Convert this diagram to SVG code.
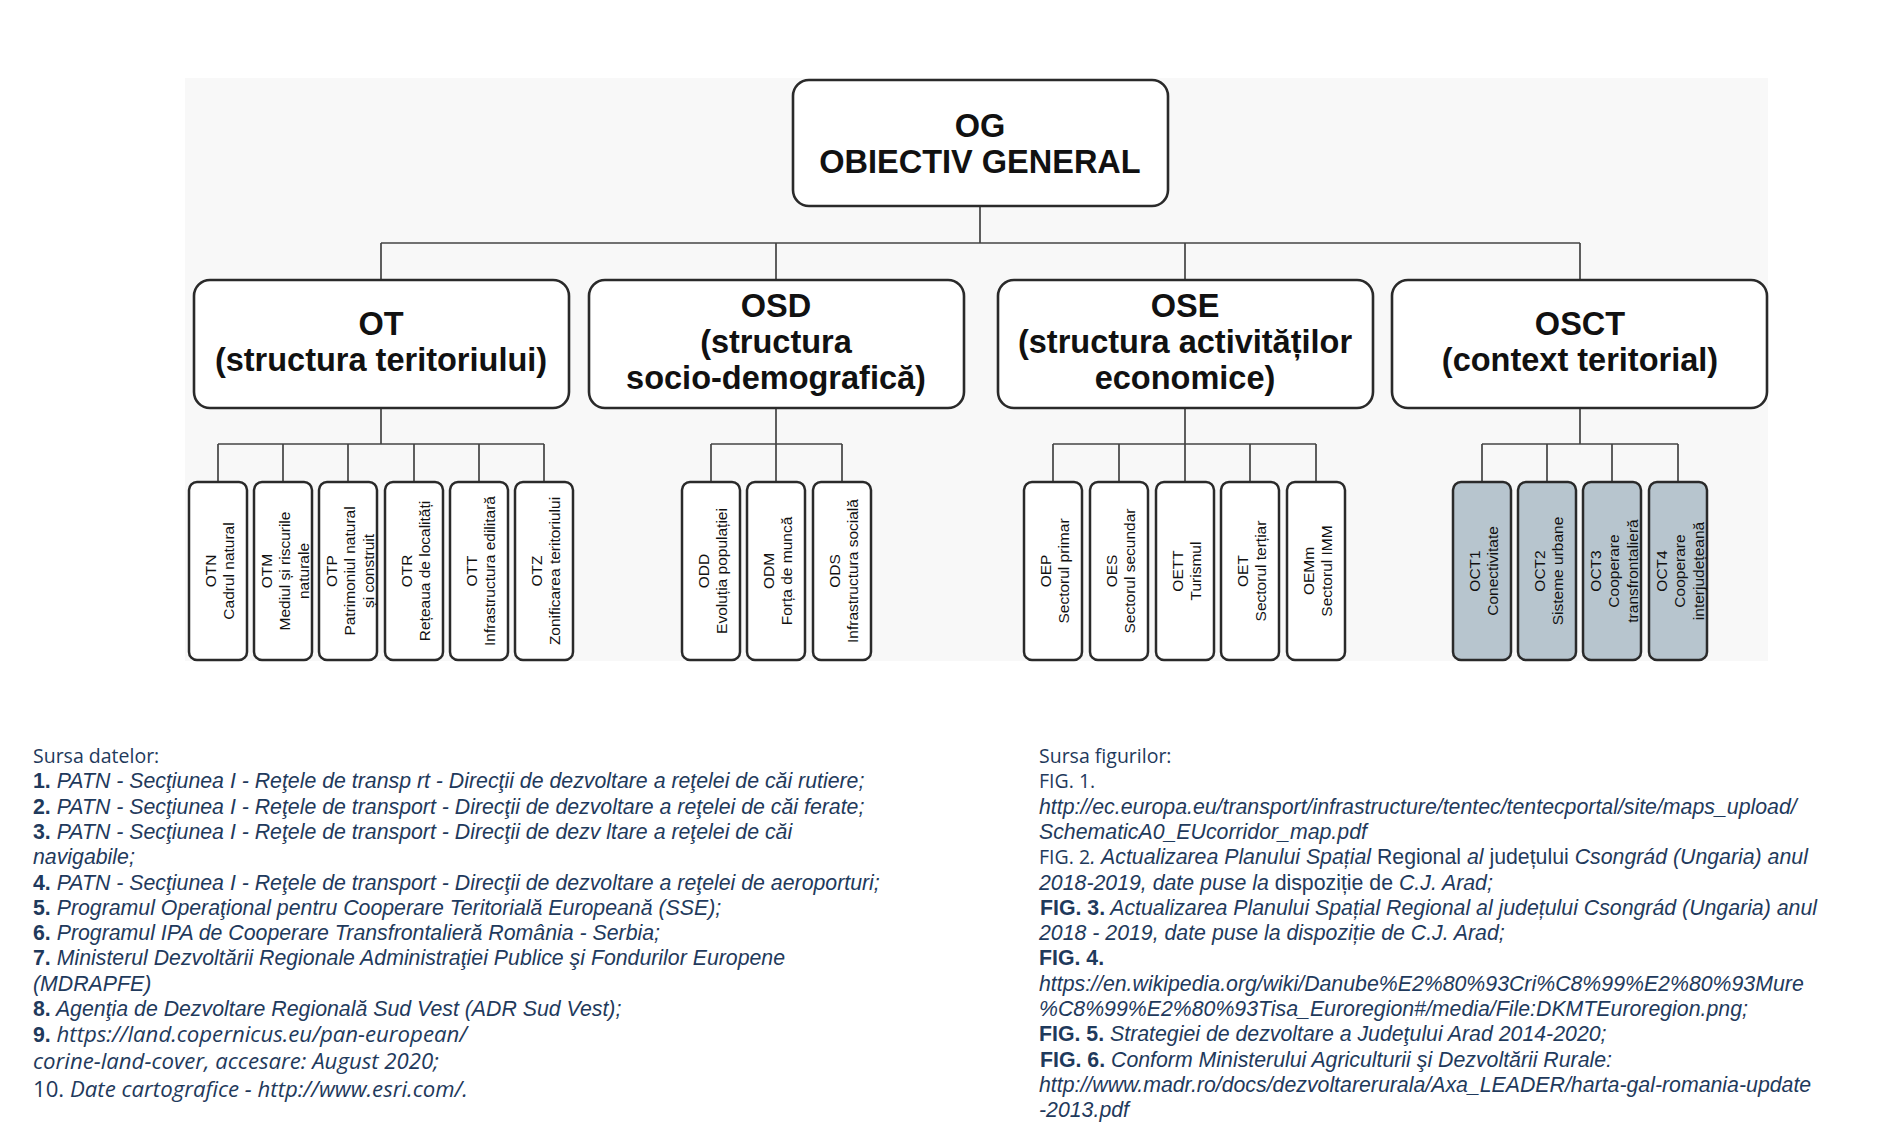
<svg xmlns="http://www.w3.org/2000/svg" width="1892" height="1123" viewBox="0 0 1892 1123">
<style>
.box{fill:#ffffff;stroke:#2a2a2a;stroke-width:2.6}
.leaf{fill:#ffffff;stroke:#2a2a2a;stroke-width:2.5}
.leafg{fill:#b7c5ce;stroke:#2a2a2a;stroke-width:2.5}
.conn line{stroke:#444;stroke-width:1.7;fill:none}
.big{font-family:"Liberation Sans",Arial,sans-serif;font-weight:bold;font-size:32.5px;fill:#111;text-anchor:middle}
.lt{font-family:"Liberation Sans",Arial,sans-serif;font-size:15.5px;fill:#111;text-anchor:middle}
.src{font-size:21.3px;fill:#1f3a5c}
.os{font-family:"Open Sans","Liberation Sans",sans-serif;font-size:19.5px}
.osi{font-family:"Open Sans","Liberation Sans",sans-serif;font-size:22.2px;font-style:italic}
.ar{font-family:"Liberation Sans",Arial,sans-serif;font-style:italic}
.arr{font-family:"Liberation Sans",Arial,sans-serif;font-style:normal}
.b{font-family:"Liberation Sans",Arial,sans-serif;font-weight:bold;font-style:normal}
</style>
<rect x="0" y="0" width="1892" height="1123" fill="#ffffff"/>
<rect x="185" y="78" width="1583" height="583" fill="#f8f8f8"/>

<g id="connectors" class="conn">
<line x1="980" y1="206" x2="980" y2="243"/>
<line x1="381" y1="243" x2="1580" y2="243"/>
<line x1="381" y1="243" x2="381" y2="280"/>
<line x1="776" y1="243" x2="776" y2="280"/>
<line x1="1185" y1="243" x2="1185" y2="280"/>
<line x1="1580" y1="243" x2="1580" y2="280"/>
<line x1="381" y1="408" x2="381" y2="444"/>
<line x1="218" y1="444" x2="544" y2="444"/>
<line x1="218" y1="444" x2="218" y2="482"/>
<line x1="283" y1="444" x2="283" y2="482"/>
<line x1="348" y1="444" x2="348" y2="482"/>
<line x1="414" y1="444" x2="414" y2="482"/>
<line x1="479" y1="444" x2="479" y2="482"/>
<line x1="544" y1="444" x2="544" y2="482"/>
<line x1="776" y1="408" x2="776" y2="482"/>
<line x1="711" y1="444" x2="842" y2="444"/>
<line x1="711" y1="444" x2="711" y2="482"/>
<line x1="842" y1="444" x2="842" y2="482"/>
<line x1="1185" y1="408" x2="1185" y2="482"/>
<line x1="1053" y1="444" x2="1316" y2="444"/>
<line x1="1053" y1="444" x2="1053" y2="482"/>
<line x1="1119" y1="444" x2="1119" y2="482"/>
<line x1="1250" y1="444" x2="1250" y2="482"/>
<line x1="1316" y1="444" x2="1316" y2="482"/>
<line x1="1580" y1="408" x2="1580" y2="444"/>
<line x1="1482" y1="444" x2="1678" y2="444"/>
<line x1="1482" y1="444" x2="1482" y2="482"/>
<line x1="1547" y1="444" x2="1547" y2="482"/>
<line x1="1612" y1="444" x2="1612" y2="482"/>
<line x1="1678" y1="444" x2="1678" y2="482"/>
</g>

<g id="OG"><rect class="box" x="793" y="80" width="375" height="126" rx="16"/>
<text class="big"><tspan x="980" y="137">OG</tspan><tspan x="980" y="173">OBIECTIV GENERAL</tspan></text></g>

<g id="OT"><rect class="box" x="194" y="280" width="375" height="128" rx="16"/>
<text class="big"><tspan x="381" y="335">OT</tspan><tspan x="381" y="371">(structura teritoriului)</tspan></text></g>
<g id="OSD"><rect class="box" x="589" y="280" width="375" height="128" rx="16"/>
<text class="big"><tspan x="776" y="317">OSD</tspan><tspan x="776" y="353">(structura</tspan><tspan x="776" y="389">socio-demografică)</tspan></text></g>
<g id="OSE"><rect class="box" x="998" y="280" width="375" height="128" rx="16"/>
<text class="big"><tspan x="1185" y="317">OSE</tspan><tspan x="1185" y="353">(structura activităților</tspan><tspan x="1185" y="389">economice)</tspan></text></g>
<g id="OSCT"><rect class="box" x="1392" y="280" width="375" height="128" rx="16"/>
<text class="big"><tspan x="1580" y="335">OSCT</tspan><tspan x="1580" y="371">(context teritorial)</tspan></text></g>

<g id="OTN"><rect class="leaf" x="189" y="482" width="58" height="178" rx="8"/>
<text class="lt" transform="translate(218,571) rotate(-90)"><tspan x="0" y="-2.25">OTN</tspan><tspan x="0" dy="18.5">Cadrul natural</tspan></text></g>
<g id="OTM"><rect class="leaf" x="254" y="482" width="58" height="178" rx="8"/>
<text class="lt" transform="translate(283,571) rotate(-90)"><tspan x="0" y="-11.5">OTM</tspan><tspan x="0" dy="18.5">Mediul și riscurile</tspan><tspan x="0" dy="18.5">naturale</tspan></text></g>
<g id="OTP"><rect class="leaf" x="319" y="482" width="58" height="178" rx="8"/>
<text class="lt" transform="translate(348,571) rotate(-90)"><tspan x="0" y="-11.5">OTP</tspan><tspan x="0" dy="18.5">Patrimoniul natural</tspan><tspan x="0" dy="18.5">și construit</tspan></text></g>
<g id="OTR"><rect class="leaf" x="385" y="482" width="58" height="178" rx="8"/>
<text class="lt" transform="translate(414,571) rotate(-90)"><tspan x="0" y="-2.25">OTR</tspan><tspan x="0" dy="18.5">Rețeaua de localități</tspan></text></g>
<g id="OTT"><rect class="leaf" x="450" y="482" width="58" height="178" rx="8"/>
<text class="lt" transform="translate(479,571) rotate(-90)"><tspan x="0" y="-2.25">OTT</tspan><tspan x="0" dy="18.5">Infrastructura edilitară</tspan></text></g>
<g id="OTZ"><rect class="leaf" x="515" y="482" width="58" height="178" rx="8"/>
<text class="lt" transform="translate(544,571) rotate(-90)"><tspan x="0" y="-2.25">OTZ</tspan><tspan x="0" dy="18.5">Zonificarea teritoriului</tspan></text></g>

<g id="ODD"><rect class="leaf" x="682" y="482" width="58" height="178" rx="8"/>
<text class="lt" transform="translate(711,571) rotate(-90)"><tspan x="0" y="-2.25">ODD</tspan><tspan x="0" dy="18.5">Evoluția populației</tspan></text></g>
<g id="ODM"><rect class="leaf" x="747" y="482" width="58" height="178" rx="8"/>
<text class="lt" transform="translate(776,571) rotate(-90)"><tspan x="0" y="-2.25">ODM</tspan><tspan x="0" dy="18.5">Forța de muncă</tspan></text></g>
<g id="ODS"><rect class="leaf" x="813" y="482" width="58" height="178" rx="8"/>
<text class="lt" transform="translate(842,571) rotate(-90)"><tspan x="0" y="-2.25">ODS</tspan><tspan x="0" dy="18.5">Infrastructura socială</tspan></text></g>

<g id="OEP"><rect class="leaf" x="1024" y="482" width="58" height="178" rx="8"/>
<text class="lt" transform="translate(1053,571) rotate(-90)"><tspan x="0" y="-2.25">OEP</tspan><tspan x="0" dy="18.5">Sectorul primar</tspan></text></g>
<g id="OES"><rect class="leaf" x="1090" y="482" width="58" height="178" rx="8"/>
<text class="lt" transform="translate(1119,571) rotate(-90)"><tspan x="0" y="-2.25">OES</tspan><tspan x="0" dy="18.5">Sectorul secundar</tspan></text></g>
<g id="OETT"><rect class="leaf" x="1156" y="482" width="58" height="178" rx="8"/>
<text class="lt" transform="translate(1185,571) rotate(-90)"><tspan x="0" y="-2.25">OETT</tspan><tspan x="0" dy="18.5">Turismul</tspan></text></g>
<g id="OET"><rect class="leaf" x="1221" y="482" width="58" height="178" rx="8"/>
<text class="lt" transform="translate(1250,571) rotate(-90)"><tspan x="0" y="-2.25">OET</tspan><tspan x="0" dy="18.5">Sectorul terțiar</tspan></text></g>
<g id="OEMm"><rect class="leaf" x="1287" y="482" width="58" height="178" rx="8"/>
<text class="lt" transform="translate(1316,571) rotate(-90)"><tspan x="0" y="-2.25">OEMm</tspan><tspan x="0" dy="18.5">Sectorul IMM</tspan></text></g>

<g id="OCT1"><rect class="leafg" x="1453" y="482" width="58" height="178" rx="8"/>
<text class="lt" transform="translate(1482,571) rotate(-90)"><tspan x="0" y="-2.25">OCT1</tspan><tspan x="0" dy="18.5">Conectivitate</tspan></text></g>
<g id="OCT2"><rect class="leafg" x="1518" y="482" width="58" height="178" rx="8"/>
<text class="lt" transform="translate(1547,571) rotate(-90)"><tspan x="0" y="-2.25">OCT2</tspan><tspan x="0" dy="18.5">Sisteme urbane</tspan></text></g>
<g id="OCT3"><rect class="leafg" x="1583" y="482" width="58" height="178" rx="8"/>
<text class="lt" transform="translate(1612,571) rotate(-90)"><tspan x="0" y="-11.5">OCT3</tspan><tspan x="0" dy="18.5">Cooperare</tspan><tspan x="0" dy="18.5">transfrontalieră</tspan></text></g>
<g id="OCT4"><rect class="leafg" x="1649" y="482" width="58" height="178" rx="8"/>
<text class="lt" transform="translate(1678,571) rotate(-90)"><tspan x="0" y="-11.5">OCT4</tspan><tspan x="0" dy="18.5">Cooperare</tspan><tspan x="0" dy="18.5">interjudețeană</tspan></text></g>

<g id="sursa-datelor" class="src">
<text class="os" x="33" y="763">Sursa datelor:</text>
<text class="ar" x="33" y="788"><tspan class="b">1.</tspan> PATN - Secţiunea I - Reţele de transp rt - Direcţii de dezvoltare a reţelei de căi rutiere;</text>
<text class="ar" x="33" y="814"><tspan class="b">2.</tspan> PATN - Secţiunea I - Reţele de transport - Direcţii de dezvoltare a reţelei de căi ferate;</text>
<text class="ar" x="33" y="839"><tspan class="b">3.</tspan> PATN - Secţiunea I - Reţele de transport - Direcţii de dezv ltare a reţelei de căi</text>
<text class="ar" x="33" y="864">navigabile;</text>
<text class="ar" x="33" y="890"><tspan class="b">4.</tspan> PATN - Secţiunea I - Reţele de transport - Direcţii de dezvoltare a reţelei de aeroporturi;</text>
<text class="ar" x="33" y="915"><tspan class="b">5.</tspan> Programul Operaţional pentru Cooperare Teritorială Europeană (SSE);</text>
<text class="ar" x="33" y="940"><tspan class="b">6.</tspan> Programul IPA de Cooperare Transfrontalieră România - Serbia;</text>
<text class="ar" x="33" y="965"><tspan class="b">7.</tspan> Ministerul Dezvoltării Regionale Administraţiei Publice şi Fondurilor Europene</text>
<text class="ar" x="33" y="991">(MDRAPFE)</text>
<text class="ar" x="33" y="1016"><tspan class="b">8.</tspan> Agenţia de Dezvoltare Regională Sud Vest (ADR Sud Vest);</text>
<text class="osi" x="33" y="1042"><tspan class="b" style="font-size:21.3px">9.</tspan> https://land.copernicus.eu/pan-european/</text>
<text class="osi" x="33" y="1069">corine-land-cover, accesare: August 2020;</text>
<text class="osi" x="33" y="1097"><tspan style="font-style:normal">10.</tspan> Date cartografice - http://www.esri.com/.</text>
</g>

<g id="sursa-figurilor" class="src">
<text class="os" x="1039" y="763">Sursa figurilor:</text>
<text class="os" x="1039" y="788">FIG. 1.</text>
<text class="ar" x="1039" y="814">http://ec.europa.eu/transport/infrastructure/tentec/tentecportal/site/maps_upload/</text>
<text class="ar" x="1039" y="839">SchematicA0_EUcorridor_map.pdf</text>
<text class="ar" x="1039" y="864"><tspan class="os" style="font-style:normal">FIG. 2</tspan>. Actualizarea Planului Spațial <tspan class="arr">Regional</tspan> al <tspan class="arr">județului</tspan> Csongrád (Ungaria) anul</text>
<text class="ar" x="1039" y="890">2018-2019, date puse la <tspan class="arr">dispoziție de</tspan> C.J. Arad;</text>
<text class="ar" x="1040" y="915"><tspan class="b">FIG. 3.</tspan> Actualizarea Planului Spațial Regional al județului Csongrád (Ungaria) anul</text>
<text class="ar" x="1039" y="940">2018 - 2019, date puse la dispoziție de C.J. Arad;</text>
<text class="ar" x="1039" y="965"><tspan class="b">FIG. 4.</tspan></text>
<text class="ar" x="1039" y="991">https://en.wikipedia.org/wiki/Danube%E2%80%93Cri%C8%99%E2%80%93Mure</text>
<text class="ar" x="1039" y="1016">%C8%99%E2%80%93Tisa_Euroregion#/media/File:DKMTEuroregion.png;</text>
<text class="ar" x="1039" y="1041"><tspan class="b">FIG. 5.</tspan> Strategiei de dezvoltare a Judeţului Arad 2014-2020;</text>
<text class="ar" x="1040" y="1067"><tspan class="b">FIG. 6.</tspan> Conform Ministerului Agriculturii şi Dezvoltării Rurale:</text>
<text class="ar" x="1039" y="1092">http://www.madr.ro/docs/dezvoltarerurala/Axa_LEADER/harta-gal-romania-update</text>
<text class="ar" x="1039" y="1117">-2013.pdf</text>
</g>
</svg>
